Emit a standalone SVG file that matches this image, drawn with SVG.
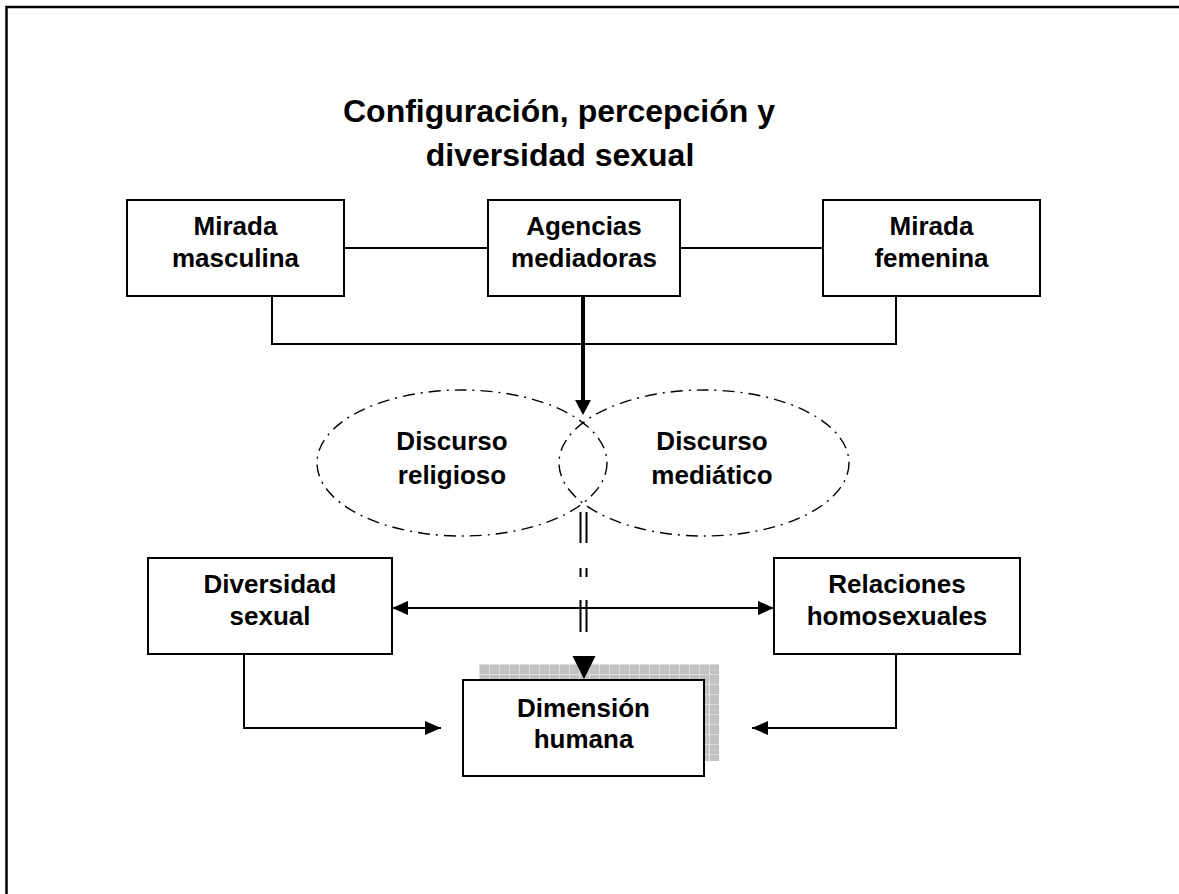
<svg xmlns="http://www.w3.org/2000/svg" width="1179" height="894" viewBox="0 0 1179 894">
  <style>
    .box { fill: #ffffff; stroke: #000000; stroke-width: 2; }
    .lbl { font-family: "Liberation Sans", Arial, sans-serif; font-weight: bold; font-size: 26px; text-anchor: middle; fill: #000000; }
    .title { font-family: "Liberation Sans", Arial, sans-serif; font-weight: bold; font-size: 32px; text-anchor: middle; fill: #000000; }
    .line { fill: none; stroke: #000000; stroke-width: 2; }
    .oval { fill: none; stroke: #000000; stroke-width: 1.4; stroke-dasharray: 12 6 2 6; }
    .dbl { fill: none; stroke: #000000; stroke-width: 2; }
  </style>
  <defs>
    <marker id="arrow" viewBox="0 0 16 14" refX="16" refY="7" markerWidth="16" markerHeight="14" markerUnits="userSpaceOnUse" orient="auto-start-reverse">
      <path d="M0,0 L16,7 L0,14 Z" fill="#000000"/>
    </marker>
    <pattern id="grid" width="10" height="10" patternUnits="userSpaceOnUse" x="479" y="664">
      <rect width="10" height="10" fill="#c2c2c2"/>
      <path d="M0,0.5 H10 M0.5,0 V10" stroke="#dedede" stroke-width="1"/>
    </pattern>
  </defs>

  <rect width="1179" height="894" fill="#ffffff"/>
  <!-- page frame -->
  <rect x="6.5" y="7" width="1300" height="1000" fill="none" stroke="#000000" stroke-width="2.5"/>

  <!-- heading -->
  <text class="title" x="559" y="122">Configuración, percepción y</text>
  <text class="title" x="560" y="166">diversidad sexual</text>

  <g id="mirada-masculina">
    <rect class="box" x="127" y="200" width="217" height="96"/>
    <text class="lbl" x="235.5" y="235">Mirada</text>
    <text class="lbl" x="235.5" y="267">masculina</text>
  </g>

  <g id="agencias-mediadoras">
    <rect class="box" x="488" y="200" width="192" height="96"/>
    <text class="lbl" x="584" y="235">Agencias</text>
    <text class="lbl" x="584" y="267">mediadoras</text>
  </g>

  <g id="mirada-femenina">
    <rect class="box" x="823" y="200" width="217" height="96"/>
    <text class="lbl" x="931.5" y="235">Mirada</text>
    <text class="lbl" x="931.5" y="267">femenina</text>
  </g>

  <g id="discurso-religioso">
    <ellipse class="oval" cx="462" cy="463" rx="145" ry="73"/>
    <text class="lbl" x="452" y="450">Discurso</text>
    <text class="lbl" x="452" y="484">religioso</text>
  </g>

  <g id="discurso-mediatico">
    <ellipse class="oval" cx="704" cy="463" rx="145" ry="73"/>
    <text class="lbl" x="712" y="450">Discurso</text>
    <text class="lbl" x="712" y="484">mediático</text>
  </g>

  <g id="diversidad-sexual">
    <rect class="box" x="148" y="558" width="244" height="96"/>
    <text class="lbl" x="270" y="593">Diversidad</text>
    <text class="lbl" x="270" y="625">sexual</text>
  </g>

  <g id="relaciones-homosexuales">
    <rect class="box" x="774" y="558" width="246" height="96"/>
    <text class="lbl" x="897" y="593">Relaciones</text>
    <text class="lbl" x="897" y="625">homosexuales</text>
  </g>

  <g id="dimension-humana">
    <!-- textured drop shadow behind the box -->
    <rect x="479" y="664" width="240" height="97" fill="url(#grid)"/>
    <rect class="box" x="463" y="680" width="241" height="96"/>
    <text class="lbl" x="583.5" y="717">Dimensión</text>
    <text class="lbl" x="583.5" y="748">humana</text>
  </g>

  <!-- connectors (drawn last so arrowheads sit on top of the shadow) -->
  <g id="connectors">
    <line class="line" x1="344" y1="248" x2="488" y2="248"/>
    <line class="line" x1="680" y1="248" x2="823" y2="248"/>
    <polyline class="line" points="272,296 272,344 896,344 896,296"/>
    <!-- heavy arrow from the mediating agencies -->
    <line x1="583" y1="296" x2="583" y2="402" stroke="#000000" stroke-width="4"/>
    <path d="M575,400 L591,400 L583,415 Z" fill="#000000"/>
    <!-- broken double line down to the human dimension -->
    <g class="dbl">
      <line x1="580.5" y1="512" x2="580.5" y2="543"/>
      <line x1="586.5" y1="512" x2="586.5" y2="543"/>
      <line x1="580.5" y1="568" x2="580.5" y2="577"/>
      <line x1="586.5" y1="568" x2="586.5" y2="577"/>
      <line x1="580.5" y1="600" x2="580.5" y2="632"/>
      <line x1="586.5" y1="600" x2="586.5" y2="632"/>
    </g>
    <path d="M572.5,656 L595.5,656 L584,679 Z" fill="#000000"/>
    <!-- two-way link between the lower boxes -->
    <line class="line" x1="392" y1="608" x2="774" y2="608" marker-start="url(#arrow)" marker-end="url(#arrow)"/>
    <polyline class="line" points="244,654 244,728 441,728" marker-end="url(#arrow)"/>
    <polyline class="line" points="896,654 896,728 752,728" marker-end="url(#arrow)"/>
  </g>
</svg>
